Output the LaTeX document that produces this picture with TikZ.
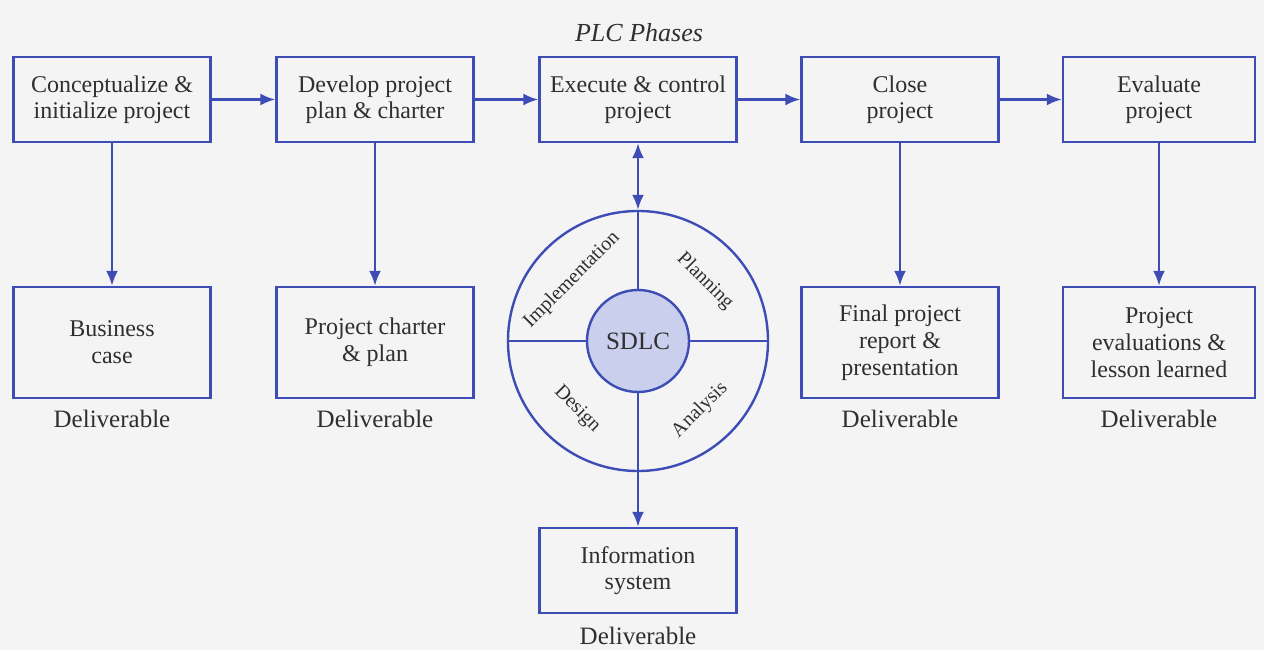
\documentclass[tikz,border=0pt]{standalone}
\usepackage{fontspec}
\setmainfont{Liberation Serif}
\usetikzlibrary{arrows.meta}
\definecolor{lineblue}{HTML}{3D4DB5}
\definecolor{sdlcfill}{HTML}{C9CFEC}
\definecolor{ink}{HTML}{2F2F2F}
\definecolor{paper}{HTML}{F4F4F5}
\begin{document}
\begin{tikzpicture}[x=1pt,y=-1pt,
  phase/.style={draw=lineblue, line width=2.4pt, minimum width=197pt, minimum height=85pt,
    align=center, font=\fontsize{24}{26}\selectfont, text=ink, inner sep=0pt},
  delivbox/.style={phase, minimum height=111pt, font=\fontsize{24}{27}\selectfont},
  dlabel/.style={font=\fontsize{25}{28}\selectfont, text=ink},
  flow/.style={draw=lineblue, line width=2.4pt, -{Latex[length=15pt,width=12pt]}},
  twoway/.style={draw=lineblue, line width=2.4pt, {Latex[length=15pt,width=12pt]}-{Latex[length=15pt,width=12pt]}},
  ringline/.style={draw=lineblue, line width=1.8pt},
  quad/.style={font=\fontsize{20}{22}\selectfont, text=ink, inner sep=0pt}
]
\fill[paper] (0,0) rectangle (1264,650);
\useasboundingbox (0,0) rectangle (1264,650);

\node[font=\itshape\fontsize{26}{28}\selectfont, text=ink] (title) at (639,33) {PLC Phases};

% top row
\node[phase] (p1) at (112,99.5) {Conceptualize \&\\initialize project};
\node[phase] (p2) at (375,99.5) {Develop project\\plan \& charter};
\node[phase] (p3) at (638,99.5) {Execute \& control\\project};
\node[phase] (p4) at (900,99.5) {Close\\project};
\node[phase, minimum width=192pt] (p5) at (1159,99.5) {Evaluate\\project};

% deliverables
\node[delivbox] (d1) at (112,342.5) {Business\\case};
\node[delivbox] (d2) at (375,342.5) {Project charter\\\& plan};
\node[delivbox] (d4) at (900,342.5) {Final project\\report \&\\presentation};
\node[delivbox, minimum width=192pt] (d5) at (1159,342.5) {Project\\evaluations \&\\lesson learned};
\node[phase] (d3) at (638,570.5) {Information\\system};

\node[dlabel] (l1) at (112,419) {Deliverable};
\node[dlabel] (l2) at (375,419) {Deliverable};
\node[dlabel] (l4) at (900,419) {Deliverable};
\node[dlabel] (l5) at (1159,419) {Deliverable};
\node[dlabel] (l3) at (638,636) {Deliverable};

% flow arrows
\draw[flow] (p1) -- (p2);
\draw[flow] (p2) -- (p3);
\draw[flow] (p3) -- (p4);
\draw[flow] (p4) -- (p5);
\draw[flow] (p1) -- (d1);
\draw[flow] (p2) -- (d2);
\draw[flow] (p4) -- (d4);
\draw[flow] (p5) -- (d5);

% SDLC wheel
\node[circle, draw=lineblue, line width=2.4pt, minimum size=260pt, inner sep=0pt] (ring) at (638,341) {};
\draw[ringline] (ring.north) -- (ring.south);
\draw[ringline] (ring.west) -- (ring.east);
\node[circle, draw=lineblue, line width=2.4pt, fill=sdlcfill, minimum size=102pt, inner sep=0pt,
  font=\fontsize{25}{28}\selectfont, text=ink] (sdlc) at (638,341) {SDLC};

\node[quad, rotate=45] (impl) at (572,280) {Implementation};
\node[quad, rotate=-45] (plan) at (705,281) {Planning};
\node[quad, rotate=-45] (design) at (577,409) {Design};
\node[quad, rotate=45] (anal) at (700,410) {Analysis};

\draw[twoway] (p3.south) -- (ring.north);
\draw[flow] (ring.south) -- (d3.north);
\end{tikzpicture}
\end{document}
